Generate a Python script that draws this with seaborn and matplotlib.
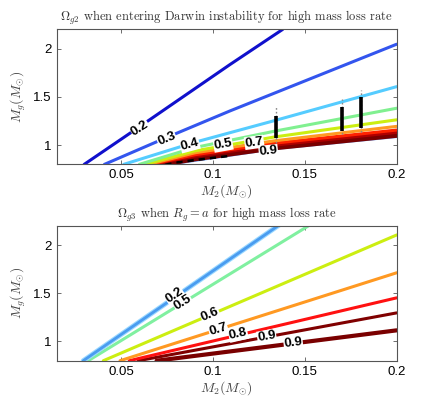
import matplotlib
matplotlib.use("Agg")
import matplotlib.pyplot as plt
import seaborn as sns

# ---------------- data: top panel (Omega_g2 contours) ----------------
t02_x = [0.0300, 0.0600, 0.1093, 0.1380]; t02_y = [0.80, 1.189, 1.835, 2.20]
t03_x = [0.0410, 0.0750, 0.1093, 0.2000]; t03_y = [0.80, 1.080, 1.354, 2.046]
t04_x = [0.0515, 0.0903, 0.1338, 0.2000]; t04_y = [0.80, 1.030, 1.255, 1.606]
t05_x = [0.0600, 0.0903, 0.1338, 0.2000]; t05_y = [0.80, 0.975, 1.145, 1.382]
t06_x = [0.0630, 0.0903, 0.1338, 0.2000]; t06_y = [0.80, 0.940, 1.085, 1.262]
t07_x = [0.0650, 0.0903, 0.1338, 0.2000]; t07_y = [0.80, 0.920, 1.045, 1.194]
t08_x = [0.0660, 0.0903, 0.1338, 0.2000]; t08_y = [0.80, 0.900, 1.020, 1.156]
t09_x = [0.0670, 0.0903, 0.1338, 0.2000]; t09_y = [0.80, 0.885, 1.000, 1.132]
t10_x = [0.0690, 0.0903, 0.1338, 0.2000]; t10_y = [0.79, 0.860, 0.975, 1.104]
t00_x = [0.0750, 0.1338, 0.2000];         t00_y = [0.79, 0.955, 1.080]
tdash_x = [0.0680, 0.0903, 0.1080];       tdash_y = [0.79, 0.845, 0.885]

top_label_text = ["0.2", "0.3", "0.4", "0.5", "0.7", "0.9"]
top_label_x = [0.0603, 0.0749, 0.0875, 0.1056, 0.1225, 0.1302]
top_label_y = [1.175, 1.062, 1.003, 1.003, 1.028, 0.935]
top_label_rot = [33, 22, 15, 10, 8, 6]

# error bars (top panel)
bar_x = [0.1342, 0.1704, 0.1804]
bar_lo = [1.076, 1.146, 1.180]
bar_hi = [1.305, 1.398, 1.496]
bar_dot_lo = [1.018, 1.112, 1.132]
bar_dot_hi = [1.398, 1.478, 1.572]

# ---------------- data: bottom panel (Omega_g3 contours) ----------------
b02_x = [0.0295, 0.1361]; b02_y = [0.80, 2.208]
b05_x = [0.0322, 0.1528]; b05_y = [0.80, 2.208]
b06_x = [0.0404, 0.2000]; b06_y = [0.80, 2.104]
b07_x = [0.0495, 0.2000]; b07_y = [0.80, 1.712]
b08_x = [0.0545, 0.2000]; b08_y = [0.80, 1.452]
b09_x = [0.0594, 0.2000]; b09_y = [0.80, 1.296]
b09b_x = [0.0694, 0.2000]; b09b_y = [0.80, 1.115]

bot_label_text = ["0.2", "0.5", "0.6", "0.7", "0.8", "0.9", "0.9"]
bot_label_x = [0.0790, 0.0835, 0.0984, 0.1029, 0.1138, 0.1293, 0.1437]
bot_label_y = [1.480, 1.405, 1.280, 1.127, 1.072, 1.052, 0.985]
bot_label_rot = [34, 32, 23, 17, 13, 10, 7]

x_ticks = [0.05, 0.1, 0.15, 0.2]
x_tick_labels = ["0.05", "0.1", "0.15", "0.2"]
y_ticks = [1, 1.5, 2]
y_tick_labels = ["1", "1.5", "2"]

# ---------------- style ----------------
sns.set_style("ticks")
plt.rcParams.update({
    "font.family": ["Liberation Sans", "DejaVu Sans"],
    "mathtext.fontset": "cm",
    "xtick.direction": "in", "ytick.direction": "in",
    "xtick.top": True, "ytick.right": True,
    "xtick.major.size": 3, "ytick.major.size": 3,
    "xtick.major.width": 0.6, "ytick.major.width": 0.6,
    "axes.edgecolor": "#555555", "axes.linewidth": 0.8,
    "xtick.color": "#555555", "ytick.color": "#555555",
    "xtick.labelcolor": "black", "ytick.labelcolor": "black",
    "xtick.labelsize": 9.5, "ytick.labelsize": 9.5,
})

fig = plt.figure(figsize=(4.39, 3.97), dpi=100)
ax1 = fig.add_axes([0.129, 0.586, 0.7745, 0.340])
ax2 = fig.add_axes([0.129, 0.0914, 0.7745, 0.340])


def line(ax, xs, ys, color, lw, **kw):
    sns.lineplot(x=xs, y=ys, color=color, linewidth=lw, sort=False,
                 estimator=None, ax=ax, legend=False, **kw)


def labels(ax, texts, xs, ys, rots):
    for t, x, y, r in zip(texts, xs, ys, rots):
        ax.text(x, y, t, rotation=r, ha="center", va="center", fontsize=9.5,
                fontweight="bold", color="none", zorder=5,
                rotation_mode="anchor",
                bbox=dict(facecolor="white", edgecolor="none", pad=0.3))
    for t, x, y, r in zip(texts, xs, ys, rots):
        ax.text(x, y, t, rotation=r, ha="center", va="center", fontsize=9.5,
                fontweight="bold", color="black", zorder=6,
                rotation_mode="anchor")


# top panel
line(ax1, t00_x, t00_y, "#66aaff", 1.0)
line(ax1, t10_x, t10_y, "#7a0000", 4.0)
line(ax1, tdash_x, tdash_y, "black", 1.8, dashes=False, linestyle=(0, (2.5, 2)))
line(ax1, t09_x, t09_y, "#b00000", 2.2)
line(ax1, t08_x, t08_y, "#ff2200", 2.2)
line(ax1, t07_x, t07_y, "#ff9922", 2.2)
line(ax1, t06_x, t06_y, "#ccee11", 2.2)
line(ax1, t05_x, t05_y, "#80f090", 2.2)
line(ax1, t04_x, t04_y, "#55ccff", 2.2)
line(ax1, t03_x, t03_y, "#3355ee", 2.2)
line(ax1, t02_x, t02_y, "#1010cc", 2.2)
labels(ax1, top_label_text, top_label_x, top_label_y, top_label_rot)

ax1.vlines(bar_x, bar_dot_lo, bar_dot_hi, colors="#888888", linewidth=1.0,
           linestyles=(0, (1.2, 1.5)), zorder=7)
ax1.vlines(bar_x, bar_lo, bar_hi, colors="black", linewidth=2.6, zorder=8)

# bottom panel
line(ax2, b09b_x, b09b_y, "#7a0000", 3.0)
line(ax2, b09_x, b09_y, "#800000", 2.2)
line(ax2, b08_x, b08_y, "#ff1111", 2.2)
line(ax2, b07_x, b07_y, "#ff9922", 2.2)
line(ax2, b06_x, b06_y, "#ccee11", 2.2)
line(ax2, b05_x, b05_y, "#80f0a0", 2.2)
line(ax2, b02_x, b02_y, "#9ad8ff", 3.6)
line(ax2, b02_x, b02_y, "#4a9cf0", 2.0)
labels(ax2, bot_label_text, bot_label_x, bot_label_y, bot_label_rot)

titles = [r"$\Omega_{g2}$ when entering Darwin instability for high mass loss rate",
          r"$\Omega_{g3}$ when $R_g = a$ for high mass loss rate"]
for ax, title in zip([ax1, ax2], titles):
    ax.set_xlim(0.015, 0.2)
    ax.set_ylim(0.8, 2.2)
    ax.set_xticks(x_ticks)
    ax.set_xticklabels(x_tick_labels)
    ax.set_yticks(y_ticks)
    ax.set_yticklabels(y_tick_labels)
    ax.set_title(title, fontsize=9.0, family="cmr10", color="#333333", pad=6)
    ax.set_xlabel(r"$M_2(M_{\odot})$", fontsize=10, color="#444444", labelpad=1)
    ax.set_ylabel(r"$M_g(M_{\odot})$", fontsize=10, color="#444444", labelpad=4)
    for s in ax.spines.values():
        s.set_visible(True)

fig.savefig("out.png", dpi=100)
